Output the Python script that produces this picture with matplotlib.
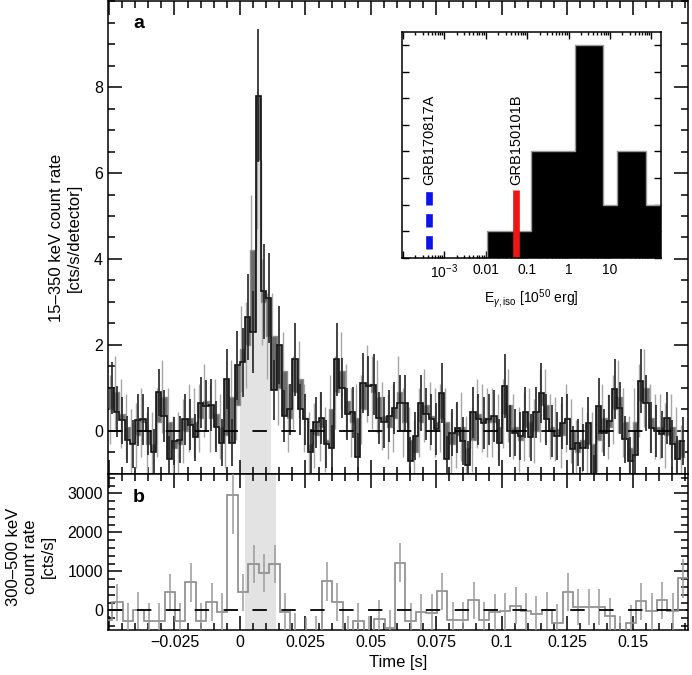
import numpy as np
import matplotlib.pyplot as plt
from matplotlib.ticker import MultipleLocator, FuncFormatter, FixedLocator, FixedFormatter, LogLocator, NullFormatter

plt.rcParams['font.family'] = ['Liberation Sans', 'DejaVu Sans']
plt.rcParams['mathtext.fontset'] = 'custom'
plt.rcParams['mathtext.rm'] = 'Liberation Sans'
plt.rcParams['mathtext.it'] = 'Liberation Sans:italic'
plt.rcParams['mathtext.bf'] = 'Liberation Sans:bold'

# panel a: 15-350 keV light curve, 2 ms bins starting at -0.05 s
bat_start = -0.05
bat_width = 0.002
bat_rate = [1.0, 0.45, 0.25, -0.2, -0.3, 0.25, 0.27, 0.0, -0.5, 0.9,
            0.35, -0.66, -0.23, -0.2, 0.27, 0.15, -0.15, 0.66, 0.58, 0.6,
            0.1, -0.27, 1.2, -0.27, 1.53, 1.6, 2.65, 2.3, 7.8, 3.25,
            3.1, 0.95, 2.0, 0.35, 0.5, 1.67, 0.5, 0.27, -0.5, 0.2,
            0.3, -0.3, -0.4, 1.67, 1.0, 0.4, 0.43, -0.6, 1.12, 1.05,
            1.08, 0.3, 0.2, 0.35, 0.54, 0.66, 0.66, -0.7, -0.12, 0.66,
            0.39, 0.27, 0.04, 0.89, -0.66, -0.04, 0.08, -0.23, -0.78, 0.43,
            0.27, 0.19, 0.27, 0.35, -0.27, 1.05, 0.0, -0.04, -0.12, 0.43,
            -0.15, 0.43, 0.89, 0.27, 0.0, -0.12, 0.19, 0.27, -0.43, -0.27,
            -0.39, 0.19, -1.1, 0.58, -0.04, 0.23, 0.97, 0.54, -0.19, -0.7,
            -0.55, 1.16, 0.66, 0.08, 0.0, -0.08, 0.3, -0.3, -0.66, -0.23]
bat_err = [0.6, 0.6, 0.55, 0.55, 0.55, 0.6, 0.6, 0.55, 0.55, 0.55,
           0.6, 0.55, 0.55, 0.55, 0.6, 0.6, 0.55, 0.6, 0.6, 0.6,
           0.6, 0.55, 0.7, 0.55, 0.8, 0.8, 1.0, 0.95, 1.55, 1.1,
           1.05, 0.7, 0.9, 0.6, 0.6, 0.85, 0.6, 0.6, 0.55, 0.6,
           0.6, 0.55, 0.55, 0.85, 0.7, 0.6, 0.6, 0.55, 0.7, 0.7,
           0.7, 0.6, 0.6, 0.6, 0.6, 0.65, 0.65, 0.55, 0.55, 0.65,
           0.6, 0.6, 0.6, 0.7, 0.55, 0.55, 0.6, 0.55, 0.55, 0.6,
           0.6, 0.6, 0.6, 0.6, 0.55, 0.75, 0.6, 0.55, 0.55, 0.6,
           0.55, 0.6, 0.7, 0.6, 0.6, 0.55, 0.6, 0.6, 0.55, 0.55,
           0.55, 0.6, 0.55, 0.65, 0.55, 0.6, 0.7, 0.6, 0.55, 0.55,
           0.55, 0.75, 0.65, 0.6, 0.6, 0.55, 0.6, 0.55, 0.55, 0.55]
# second (grey) curve of the same band
bat_rate2 = [0.5, 0.9, 0.4, 0.1, -0.25, -0.1, 0.2, -0.3, -0.3, 0.2,
             0.8, 0.2, -0.4, -0.3, 0.0, 0.3, 0.2, 0.3, 0.7, 0.3,
             0.4, 0.1, -0.1, 0.8, 0.6, 1.9, 2.0, 4.2, 6.3, 3.0,
             2.2, 2.2, 1.0, 1.4, 0.3, 0.9, 1.2, 0.3, -0.3, -0.1,
             0.1, -0.2, 0.5, 0.9, 1.4, 0.7, 0.2, 0.3, 0.5, 1.1,
             0.9, 0.8, 0.35, 0.1, 0.3, 0.9, 0.2, -0.2, -0.5, 0.2,
             0.6, 0.35, 0.2, 0.3, 0.2, -0.3, -0.1, 0.1, -0.4, -0.2,
             0.4, 0.3, 0.2, 0.2, 0.1, 0.4, 0.6, 0.1, -0.2, 0.1,
             0.2, 0.0, 0.6, 0.6, 0.1, 0.05, -0.1, 0.3, 0.0, -0.5,
             -0.2, -0.3, -0.3, -0.2, 0.3, 0.1, 0.5, 0.8, 0.2, -0.4,
             0.2, 0.7, 1.0, 0.3, 0.1, 0.1, -0.1, 0.1, -0.2, -0.6]
bat_err2 = [0.8, 0.85, 0.8, 0.75, 0.75, 0.75, 0.8, 0.75, 0.75, 0.8,
            0.85, 0.8, 0.75, 0.75, 0.75, 0.8, 0.8, 0.8, 0.85, 0.8,
            0.8, 0.75, 0.75, 0.85, 0.8, 1.0, 1.0, 1.3, 1.6, 1.0,
            1.0, 1.0, 0.85, 0.9, 0.8, 0.85, 0.9, 0.8, 0.75, 0.75,
            0.8, 0.75, 0.8, 0.85, 0.9, 0.85, 0.8, 0.8, 0.8, 0.9,
            0.85, 0.85, 0.8, 0.75, 0.8, 0.85, 0.8, 0.75, 0.75, 0.8,
            0.85, 0.8, 0.8, 0.8, 0.8, 0.75, 0.75, 0.8, 0.75, 0.75,
            0.8, 0.8, 0.8, 0.8, 0.75, 0.8, 0.85, 0.75, 0.75, 0.8,
            0.8, 0.75, 0.85, 0.85, 0.75, 0.75, 0.75, 0.8, 0.75, 0.75,
            0.75, 0.75, 0.75, 0.75, 0.8, 0.75, 0.8, 0.85, 0.8, 0.75,
            0.8, 0.85, 0.9, 0.8, 0.75, 0.75, 0.75, 0.75, 0.75, 0.75]

# panel b: 300-500 keV light curve, 4 ms bins
gbm_start = -0.0528
gbm_width = 0.004
gbm_rate = [-250, 210, -270, 0, -280, -270, 466, -270, 720, -270,
            212, -30, 2966, 466, 1200, 958, 1200, -30, -520, -650,
            -600, 745, 212, -600, -270, -600, -212, -450, 1230, -270,
            -40, -60, 490, -250, -250, 263, -250, -40, -20, 127,
            -20, -100, 0, -310, 475, 93, 93, 93, -150, -600,
            -330, 237, -20, 263, -20, 830]
gbm_err = [470, 480, 470, 480, 470, 470, 480, 470, 490, 470,
           480, 470, 1000, 480, 490, 480, 490, 470, 460, 460,
           460, 500, 480, 460, 470, 460, 470, 460, 500, 470,
           470, 470, 480, 470, 470, 480, 470, 470, 470, 480,
           470, 470, 470, 470, 480, 470, 470, 470, 470, 460,
           470, 480, 470, 480, 470, 500]

t90 = (0.0018, 0.0138)

# inset: E_gamma,iso distribution of short GRBs
hist_edges = [0.011, 0.123, 1.43, 6.9, 15.1, 74, 200]
hist_counts = [1, 4, 8, 2, 4, 2]
grb_names = ['GRB170817A', 'GRB150101B']
grb_eiso = [4.2e-4, 0.055]
grb_bottom = [0.35, 0.0]
grb_top = 2.55
grb_colors = ['#0a14e6', '#ee1515']

fig = plt.figure(figsize=(6.92, 6.75), dpi=100)
ax_a = fig.add_axes([0.156, 0.2978, 0.838, 0.7007])
ax_b = fig.add_axes([0.156, 0.0667, 0.838, 0.2311], sharex=ax_a)


def time_label(v, pos):
    v = round(v, 4) + 0.0
    if v < -0.04:
        return ''
    return f'{v:g}'.replace('-', '\u2212')


# --- panel a ---
rate = np.array(bat_rate)
rate2 = np.array(bat_rate2)
edges = bat_start + bat_width * np.arange(len(rate) + 1)
centers = edges[:-1] + bat_width / 2

# shaded T90 interval under the curve
i0 = np.searchsorted(edges, t90[0] + 1e-4)
i1 = np.searchsorted(edges, t90[1] + 1e-4)
sh_y = np.r_[rate[i0 - 1:i1 - 1], rate[i1 - 2]]
ax_a.fill_between(edges[i0 - 1:i1], -1, sh_y, step='post', color='#e3e3e3', lw=0, zorder=1)

ax_a.errorbar(centers - 0.0006, rate2, yerr=bat_err2, fmt='none', ecolor='#a6a6a6',
              elinewidth=1.0, capsize=0, zorder=2)
ax_a.fill_between(edges, np.r_[rate, rate[-1]], np.r_[rate2, rate2[-1]], step='post',
                  color='#6a6a6a', lw=0, zorder=3)
ax_a.stairs(rate2, edges, baseline=None, color='#8c8c8c', lw=1.0, zorder=3)
ax_a.stairs(rate, edges, baseline=None, color='#111111', lw=1.2, zorder=4)
ax_a.errorbar(centers, rate, yerr=bat_err, fmt='none', ecolor='#222222',
              elinewidth=1.2, capsize=0, zorder=4)
ax_a.axhline(0, color='k', lw=1.3, ls=(0, (8, 8)), zorder=5)

ax_a.set_ylim(-1, 10)
ax_a.set_yticks([0, 2, 4, 6, 8])
ax_a.yaxis.set_minor_locator(MultipleLocator(0.5))
ax_a.set_ylabel('15\u2013350 keV count rate\n[cts/s/detector]', fontsize=12)
ax_a.yaxis.set_label_coords(-0.045, 0.5)
ax_a.text(0.043, 0.952, 'a', transform=ax_a.transAxes, fontsize=14, fontweight='bold',
          ha='left', va='center')
plt.setp(ax_a.get_xticklabels(), visible=False)

# --- panel b ---
grate = np.array(gbm_rate)
gedges = gbm_start + gbm_width * np.arange(len(grate) + 1)
gcenters = gedges[:-1] + gbm_width / 2
ax_b.axvspan(t90[0], t90[1], color='#e3e3e3', lw=0, zorder=1)
ax_b.stairs(grate, gedges, baseline=None, color='#8a8a8a', lw=1.2, zorder=3)
ax_b.errorbar(gcenters, grate, yerr=gbm_err, fmt='none', ecolor='#9a9a9a',
              elinewidth=1.1, capsize=0, zorder=3)
ax_b.axhline(0, color='k', lw=1.3, ls=(0, (8, 8)), zorder=5)
ax_b.set_ylim(-500, 3500)
ax_b.set_yticks([0, 1000, 2000, 3000])
ax_b.yaxis.set_minor_locator(MultipleLocator(200))
ax_b.set_ylabel('300\u2013500 keV\ncount rate\n[cts/s]', fontsize=12)
ax_b.yaxis.set_label_coords(-0.09, 0.47)
ax_b.text(0.043, 0.85, 'b', transform=ax_b.transAxes, fontsize=14, fontweight='bold',
          ha='left', va='center')
ax_b.set_xlabel('Time [s]', fontsize=12)

ax_b.set_xlim(-0.0504, 0.171)
ax_b.xaxis.set_major_locator(MultipleLocator(0.025))
ax_b.xaxis.set_minor_locator(MultipleLocator(0.005))
ax_b.xaxis.set_major_formatter(FuncFormatter(time_label))

for ax in (ax_a, ax_b):
    ax.tick_params(which='both', direction='in', top=True, right=True, width=1.1,
                   labelsize=11.5)
    ax.tick_params(which='major', length=10)
    ax.tick_params(which='minor', length=5)
    for s in ax.spines.values():
        s.set_linewidth(1.1)

# --- inset ---
axin = fig.add_axes([0.581, 0.618, 0.374, 0.335])
axin.set_xscale('log')
axin.stairs(hist_counts, hist_edges, fill=True, color='k', zorder=2)
axin.stairs(hist_counts, hist_edges, color='#9a9a9a', lw=1.0, zorder=3)
for name, e, y0, c, ls in zip(grb_names, grb_eiso, grb_bottom, grb_colors,
                              [(0, (2.0, 1.3)), '-']):
    axin.plot([e, e], [y0, grb_top], color=c, lw=4.8, ls=ls,
              solid_capstyle='butt', dash_capstyle='butt', zorder=4)
    axin.text(e, grb_top + 0.2, name, rotation=90, ha='center', va='bottom', fontsize=10.5)
axin.set_xlim(9.5e-5, 170)
axin.set_ylim(0, 8.5)
axin.xaxis.set_major_locator(FixedLocator([1e-4, 1e-3, 1e-2, 1e-1, 1, 10, 100]))
axin.xaxis.set_major_formatter(FixedFormatter(['', r'$10^{-3}$', '0.01', '0.1', '1', '10', '']))
axin.xaxis.set_minor_locator(LogLocator(base=10, subs=np.arange(2, 10), numticks=20))
axin.xaxis.set_minor_formatter(NullFormatter())
axin.yaxis.set_major_locator(MultipleLocator(1))
axin.yaxis.set_major_formatter(NullFormatter())
axin.tick_params(which='both', direction='in', top=True, right=True, width=1.0, labelsize=10)
axin.tick_params(which='major', length=5)
axin.tick_params(which='minor', length=2.5)
axin.set_xlabel(r'E$_{\gamma,\mathrm{iso}}$ [10$^{50}$ erg]', fontsize=10)
for s in axin.spines.values():
    s.set_linewidth(1.1)
    s.set_zorder(5)

fig.savefig('out.png', dpi=100)
